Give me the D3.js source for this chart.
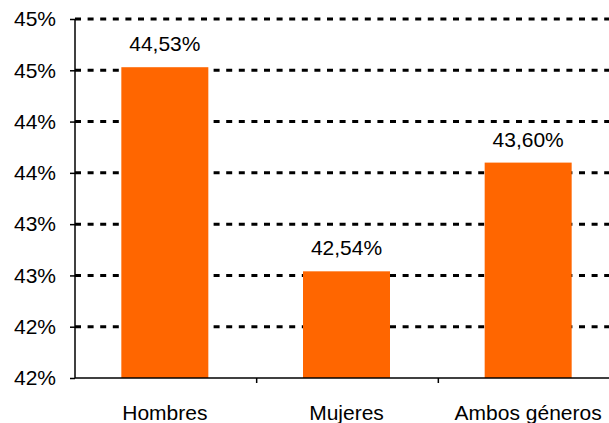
<!DOCTYPE html>
<html>
<head>
<meta charset="utf-8">
<script src="https://cdn.jsdelivr.net/npm/d3@7"></script>
<style>
  body { margin: 0; background: #fff; }
  svg { display: block; font-family: "Liberation Sans", Arial, sans-serif; }
</style>
</head>
<body>
<svg width="609" height="423"></svg>
<script>
var categories = ["Hombres", "Mujeres", "Ambos géneros"];
var values = [44.53, 42.54, 43.60];
var yTicks = [41.5, 42, 42.5, 43, 43.5, 44, 44.5, 45];

var svg = d3.select("svg"),
    margin = {top: 19, right: -11, bottom: 45, left: 75},
    width = +svg.attr("width") - margin.left - margin.right,
    height = +svg.attr("height") - margin.top - margin.bottom;

var x = d3.scaleBand().domain(categories).range([0, width]).paddingInner(0).paddingOuter(0);
var y = d3.scaleLinear().domain([41.5, 45]).range([height, 0]);

var g = svg.append("g")
    .attr("transform", "translate(" + margin.left + "," + margin.top + ")");

// dotted gridlines
g.selectAll(".grid")
  .data(yTicks.slice(1))
  .enter().append("line")
    .attr("class", "grid")
    .attr("x1", 0)
    .attr("x2", width)
    .attr("y1", function(d) { return y(d); })
    .attr("y2", function(d) { return y(d); })
    .attr("stroke", "#000")
    .attr("stroke-width", 3)
    .attr("stroke-dasharray", "6,6.6");

var barW = 87;
g.selectAll(".bar")
  .data(values)
  .enter().append("rect")
    .attr("class", "bar")
    .attr("x", function(d, i) { return x(categories[i]) + x.bandwidth() / 2 - barW / 2 - 1; })
    .attr("y", function(d) { return y(d); })
    .attr("width", barW)
    .attr("height", function(d) { return height - y(d); })
    .attr("fill", "#ff6600");

g.selectAll(".lbl")
  .data(values)
  .enter().append("text")
    .attr("class", "lbl")
    .attr("x", function(d, i) { return x(categories[i]) + x.bandwidth() / 2 - 1; })
    .attr("y", function(d) { return y(d) - 16; })
    .attr("text-anchor", "middle")
    .attr("font-size", 21)
    .text(function(d) { return d.toFixed(2).replace(".", ",") + "%"; });

// y axis
var yAxis = d3.axisLeft(y)
    .tickValues(yTicks)
    .tickSize(5)
    .tickPadding(14)
    .tickFormat(function(d) { return Math.round(d) + "%"; });

var ya = g.append("g").call(yAxis);
ya.select(".domain").attr("stroke-width", 1.5).attr("d", "M0," + height + "V0");
ya.selectAll(".tick line").attr("stroke-width", 1.5);
ya.selectAll("text").attr("font-size", 21).attr("fill", "#000").attr("font-family", "Liberation Sans, Arial, sans-serif");

// x axis with ticks between categories
var xa = g.append("g").attr("transform", "translate(0," + height + ")");
xa.append("line")
    .attr("x1", 0).attr("x2", width)
    .attr("stroke", "#000").attr("stroke-width", 1.5);
xa.selectAll(".xt")
  .data(categories.slice(1))
  .enter().append("line")
    .attr("x1", function(d) { return x(d); })
    .attr("x2", function(d) { return x(d); })
    .attr("y1", 0).attr("y2", 5)
    .attr("stroke", "#000").attr("stroke-width", 1.5);
xa.selectAll(".xl")
  .data(categories)
  .enter().append("text")
    .attr("y", 42)
    .attr("text-anchor", "middle")
    .attr("font-size", 21)
    .text(function(d) { return d; })
    .attr("x", function(d) {
      // keep the label inside the picture
      var w = this.getComputedTextLength();
      var cx = x(d) + x.bandwidth() / 2 - 1;
      var maxX = +svg.attr("width") - margin.left - 1 - w / 2;
      return Math.min(cx, maxX);
    });
</script>
</body>
</html>
